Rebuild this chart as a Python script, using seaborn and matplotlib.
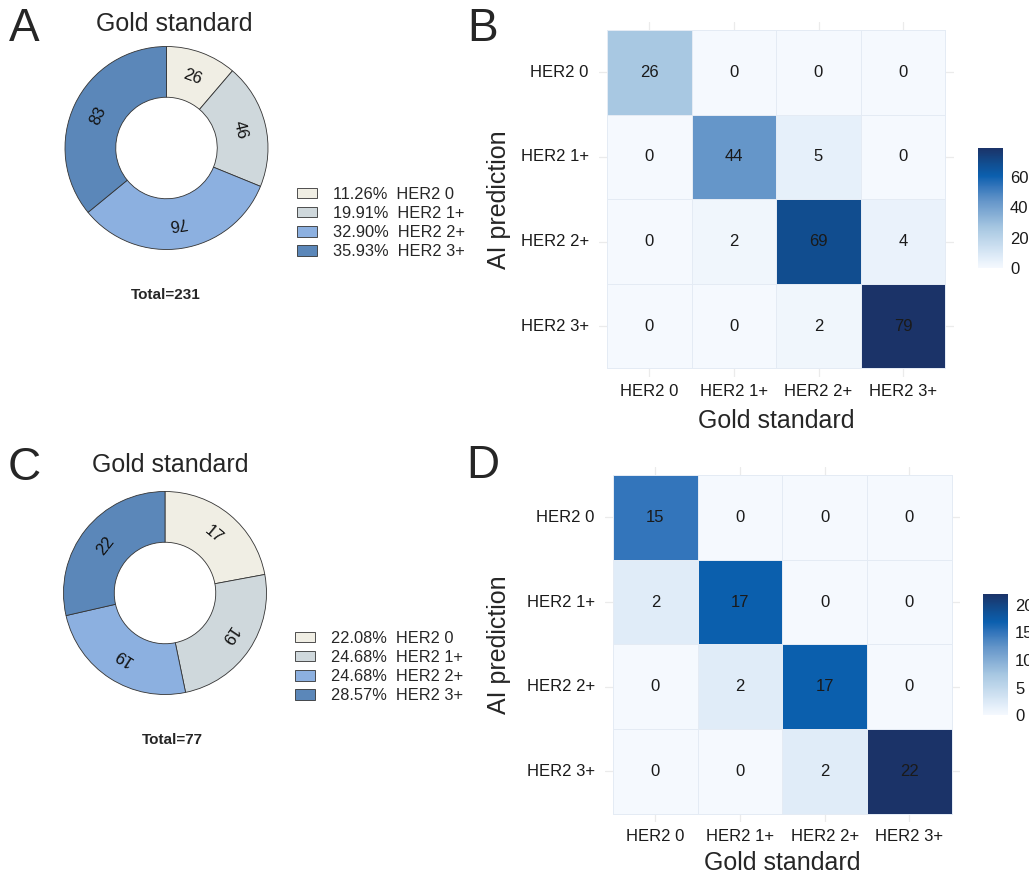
import numpy as np
import pandas as pd
import matplotlib
matplotlib.use("Agg")
import matplotlib.pyplot as plt
import seaborn as sns
from matplotlib.colors import LinearSegmentedColormap
from matplotlib.patches import Patch


# data
cats = ["HER2 0", "HER2 1+", "HER2 2+", "HER2 3+"]

gold_a = [26, 46, 76, 83]
cm_b = [[26, 0, 0, 0],
        [0, 44, 5, 0],
        [0, 2, 69, 4],
        [0, 0, 2, 79]]

gold_c = [17, 19, 19, 22]
cm_d = [[15, 0, 0, 0],
        [2, 17, 0, 0],
        [0, 2, 17, 0],
        [0, 0, 2, 22]]

ticks_b = [0, 20, 40, 60]
ticks_d = [0, 5, 10, 15, 20]


# style
sns.set_style("white")
plt.rcParams['font.family'] = ['Liberation Sans', 'DejaVu Sans']

donut_cols = ["#F0EEE4", "#CFD8DC", "#8CB0E0", "#5B87B9"]
cmap = LinearSegmentedColormap.from_list(
    "conf",
    [(0.0, "#F5F9FE"), (0.09, "#E0ECF8"), (0.33, "#A8C8E2"),
     (0.56, "#6495C9"), (0.68, "#3476BB"), (0.77, "#0B5FAE"),
     (0.875, "#114D8F"), (1.0, "#1B3368")])

W, H = 1029, 873
fig = plt.figure(figsize=(W / 100, H / 100), dpi=100)


def rect(left, top, right, bottom):
    return [left / W, 1 - bottom / H, (right - left) / W, (bottom - top) / H]


def fxy(x, y):
    return x / W, 1 - y / H


def donut(values, cx, cy, R, title_xy, total_xy, leg_xy):
    half = 1.1 * R
    ax = fig.add_axes(rect(cx - half, cy - half, cx + half, cy + half))
    wedges, _ = ax.pie(values, colors=donut_cols, startangle=90, counterclock=False,
                       radius=1, wedgeprops=dict(width=0.5, edgecolor="#333333", linewidth=0.6))
    ax.set_xlim(-1.1, 1.1)
    ax.set_ylim(-1.1, 1.1)
    for w, v in zip(wedges, values):
        mid = np.deg2rad((w.theta1 + w.theta2) / 2)
        ax.text(0.75 * np.cos(mid), 0.75 * np.sin(mid), str(v),
                rotation=np.rad2deg(mid) - 90, ha='center', va='center',
                fontsize=12, color="#111111", rotation_mode='anchor')
    total = sum(values)
    fig.text(*fxy(*title_xy), "Gold standard", fontsize=18, ha='center', va='center')
    fig.text(*fxy(*total_xy), f"Total={total}", fontsize=11, fontweight='bold',
             ha='center', va='center')
    handles = [Patch(facecolor=c, edgecolor="#333333", linewidth=0.6) for c in donut_cols]
    labels = [f"{v / total * 100:.2f}%  {c}" for v, c in zip(values, cats)]
    fig.legend(handles, labels, loc='center left', bbox_to_anchor=fxy(*leg_xy),
               bbox_transform=fig.transFigure, frameon=False, fontsize=11.8,
               handlelength=1.25, handleheight=0.62, handletextpad=0.95,
               labelspacing=0.26, borderpad=0, borderaxespad=0)


def confusion(mat, left, top, cell, cbar_rect, ticks, xlab_y, ylab_right):
    m = 0.1
    ax_left = left - m * cell
    ax_w = (4 + 2 * m) * cell
    ax = fig.add_axes(rect(ax_left, top - m * cell,
                           left + (4 + m) * cell, top + (4 + m) * cell))
    cax = fig.add_axes(rect(*cbar_rect))
    df = pd.DataFrame(mat, index=cats, columns=cats)
    sns.heatmap(df, ax=ax, cbar_ax=cax, cmap=cmap, vmin=0, annot=True, fmt="d",
                annot_kws=dict(fontsize=12, color="#1a1a1a"),
                linewidths=0.4, linecolor="#E4EBF4",
                cbar_kws=dict(ticks=ticks))
    ax.set_xlim(-m, 4 + m)
    ax.set_ylim(4 + m, -m)
    ax.set_axisbelow(True)
    ax.grid(True, color="#EBEBEB", linewidth=0.9)
    for s in ax.spines.values():
        s.set_visible(False)
    ax.tick_params(length=0, labelsize=12, labelcolor="#1a1a1a")
    ax.tick_params(axis='y', pad=7, rotation=0)
    ax.tick_params(axis='x', pad=5, rotation=0)
    ax.set_xlabel("Gold standard", fontsize=18)
    ax.set_ylabel("AI prediction", fontsize=18)
    ax.xaxis.set_label_coords(0.5, xlab_y)
    ax.yaxis.set_label_coords((ylab_right - ax_left) / ax_w, 0.5)
    cax.tick_params(direction='in', length=5, color='white', width=0.8,
                    left=True, right=True, labelsize=12, labelcolor="#1a1a1a", pad=5)
    for s in cax.spines.values():
        s.set_visible(False)
    return ax


donut(gold_a, 166.5, 148, 101.5, (174, 24), (166, 295), (297, 223))
donut(gold_c, 165, 593, 101.5, (170, 465), (172, 740), (295, 667))

confusion(cm_b, 607, 30, 84.6, (978, 148, 1003, 268), ticks_b, -0.09, 511)
confusion(cm_d, 613, 475, 84.7, (983, 594, 1008, 715), ticks_d, -0.08, 511)

for letter, (x, y) in zip("ABCD", [(24, 29), (483, 29), (24, 468), (483, 466)]):
    fig.text(*fxy(x, y), letter, fontsize=33, ha='center', va='center')

fig.savefig("out.png", dpi=100)
